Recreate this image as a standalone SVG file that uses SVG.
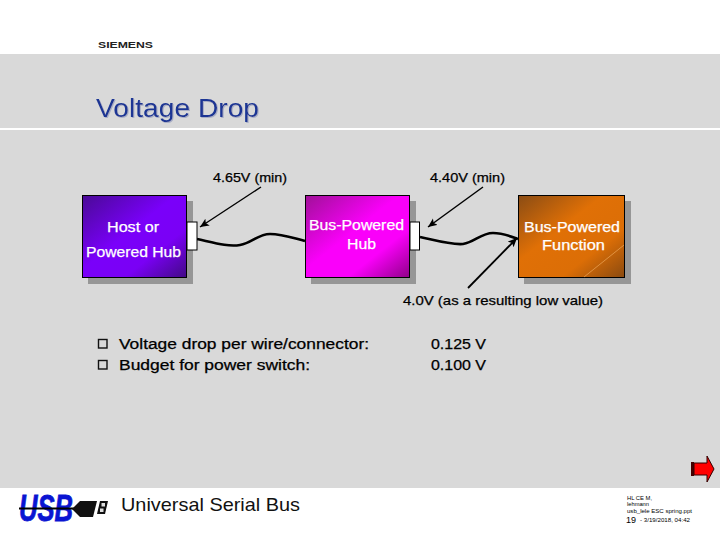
<svg xmlns="http://www.w3.org/2000/svg" width="720" height="540" viewBox="0 0 720 540">
<style>
text{font-family:"Liberation Sans",Arial,sans-serif;fill:#000}
.lbl{font-size:13px;stroke:#000;stroke-width:.25px}
.big{font-size:14px}
.box{font-size:14px;fill:#fff;stroke:#fff;stroke-width:.25px}
.shadow{fill:#969696}
.frame{stroke:#000;stroke-width:1}
.port{fill:#fff;stroke:#000;stroke-width:1}
.wire{fill:none;stroke:#000;stroke-width:2.6}
.arr{stroke:#000;stroke-width:1.4;fill:none;marker-end:url(#ah)}
.foot{font-size:6px}
.bul{fill:none;stroke:#111;stroke-width:1.4}
</style>
<defs>
<filter id="ts" x="-5%" y="-20%" width="110%" height="140%"><feDropShadow dx="1" dy="1" stdDeviation=".4" flood-color="#a8aec6"/></filter>
<marker id="ah" markerUnits="userSpaceOnUse" markerWidth="10" markerHeight="10" refX="9" refY="4" orient="auto"><path d="M0 0L9 4L0 8L2 4Z" fill="#000"/></marker>
<linearGradient id="g1" x1="0" y1="0" x2="1" y2="1"><stop offset="0" stop-color="#4a0a96"/><stop offset=".45" stop-color="#7a00fa"/><stop offset=".7" stop-color="#7a00f5"/><stop offset="1" stop-color="#420a85"/></linearGradient>
<linearGradient id="g2" x1="0" y1="0" x2="1" y2="1"><stop offset="0" stop-color="#a01098"/><stop offset=".45" stop-color="#fa00fa"/><stop offset=".7" stop-color="#fa00fa"/><stop offset="1" stop-color="#900088"/></linearGradient>
<linearGradient id="g3" x1="0" y1="0" x2="1" y2="1"><stop offset="0" stop-color="#8a4c14"/><stop offset=".4" stop-color="#e07006"/><stop offset=".7" stop-color="#dc6e06"/><stop offset="1" stop-color="#8a4a10"/></linearGradient>
</defs>
<rect width="720" height="540" fill="#fff"/>
<rect y="54" width="720" height="434" fill="#d9d9d9"/>
<rect y="128" width="720" height="2" fill="#fff"/>
<text x="98" y="48" style="font-size:9.5px;font-weight:bold;fill:#222" textLength="55" lengthAdjust="spacingAndGlyphs">SIEMENS</text>
<text x="96" y="117" style="font-size:25px;fill:#1a3594" filter="url(#ts)" textLength="163" lengthAdjust="spacingAndGlyphs">Voltage Drop</text>

<g id="connectors">
<path class="wire" d="M197 239C215 243 228 247 240 245C252 243 258 234 270 234C282 234 293 238 305 241"/>
<path class="wire" d="M420 237C438 241 451 245 463 244C475 242 481 233 493 233C503 233 510 236 518 239"/>
<path class="arr" d="M261 187L200 227"/>
<path class="arr" d="M483 187L428 227"/>
<path class="arr" style="stroke-width:1.800" d="M468 288L517 238"/>
</g>

<g id="host">
<rect class="shadow" x="88" y="201" width="105" height="83"/>
<rect class="frame" x="82.500" y="195.500" width="104" height="82" fill="url(#g1)"/>
<rect class="port" x="187" y="222" width="10" height="28"/>
<text class="box" x="107" y="232" textLength="52" lengthAdjust="spacingAndGlyphs">Host or</text>
<text class="box" x="86" y="257" textLength="95" lengthAdjust="spacingAndGlyphs">Powered Hub</text>
</g>
<g id="hub">
<rect class="shadow" x="311" y="201" width="105" height="83"/>
<rect class="frame" x="305.500" y="195.500" width="104" height="82" fill="url(#g2)"/>
<rect class="port" x="410" y="222" width="9.500" height="28"/>
<text class="box" x="309" y="230" textLength="95" lengthAdjust="spacingAndGlyphs">Bus-Powered</text>
<text class="box" x="347" y="249" textLength="29" lengthAdjust="spacingAndGlyphs">Hub</text>
</g>
<g id="function">
<rect class="shadow" x="524" y="201" width="107" height="83"/>
<rect class="frame" x="518.500" y="195.500" width="106" height="82" fill="url(#g3)"/>
<path d="M584 277L624 245" stroke="#e8a050" stroke-width=".8" fill="none"/>
<text class="box" x="524" y="232" textLength="96" lengthAdjust="spacingAndGlyphs">Bus-Powered</text>
<text class="box" x="542" y="250" textLength="63" lengthAdjust="spacingAndGlyphs">Function</text>
</g>

<text class="lbl" x="213" y="182" textLength="74" lengthAdjust="spacingAndGlyphs">4.65V (min)</text>
<text class="lbl" x="430" y="182" textLength="75" lengthAdjust="spacingAndGlyphs">4.40V (min)</text>
<text class="lbl" x="403" y="305" textLength="200" lengthAdjust="spacingAndGlyphs">4.0V (as a resulting low value)</text>

<g id="bullets">
<rect class="bul" x="98.500" y="339.500" width="8.500" height="8.500"/>
<rect class="bul" x="98.500" y="360.500" width="8.500" height="8.500"/>
<text class="lbl big" x="119" y="349" textLength="250" lengthAdjust="spacingAndGlyphs">Voltage drop per wire/connector:</text>
<text class="lbl big" x="119" y="370" textLength="191" lengthAdjust="spacingAndGlyphs">Budget for power switch:</text>
<text class="lbl big" x="431" y="349" textLength="55" lengthAdjust="spacingAndGlyphs">0.125 V</text>
<text class="lbl big" x="431" y="370" textLength="55" lengthAdjust="spacingAndGlyphs">0.100 V</text>
</g>

<g id="next">
<rect x="691" y="462" width="3" height="14" fill="#400"/>
<path d="M694 463H707V456L714 469L707 482V475H694Z" fill="#f00" stroke="#300" stroke-width="1"/>
</g>

<g id="logo">
<text x="19" y="521" style="font-size:36px;font-weight:bold;font-style:italic;fill:#0a14d2;stroke:#0a14d2;stroke-width:.8" textLength="54" lengthAdjust="spacingAndGlyphs">USB</text>
<rect x="19" y="507.500" width="56" height="2" fill="#000"/>
<path d="M72 509L80 501H97L93 517H80Z" fill="#111"/>
<path d="M100 501H108L105 514H97Z" fill="#111"/>
<rect x="101.500" y="503" width="3.500" height="3.500" fill="#ddd"/>
<rect x="100" y="508.500" width="3.500" height="3.500" fill="#ddd"/>
</g>
<text x="121" y="511" style="font-size:19px;fill:#111" textLength="179" lengthAdjust="spacingAndGlyphs">Universal Serial Bus</text>

<g id="footer">
<text class="foot" x="627" y="499.500" textLength="25" lengthAdjust="spacingAndGlyphs">HL CE M,</text>
<text class="foot" x="627" y="506" textLength="22" lengthAdjust="spacingAndGlyphs">lehmann</text>
<text class="foot" x="627" y="512.500" textLength="65" lengthAdjust="spacingAndGlyphs">usb_lele ESC spring.ppt</text>
<text x="626" y="523" style="font-size:8.500px" textLength="10" lengthAdjust="spacingAndGlyphs">19</text>
<text class="foot" x="640" y="522" textLength="50" lengthAdjust="spacingAndGlyphs">-  3/19/2018, 04:42</text>
</g>
</svg>
